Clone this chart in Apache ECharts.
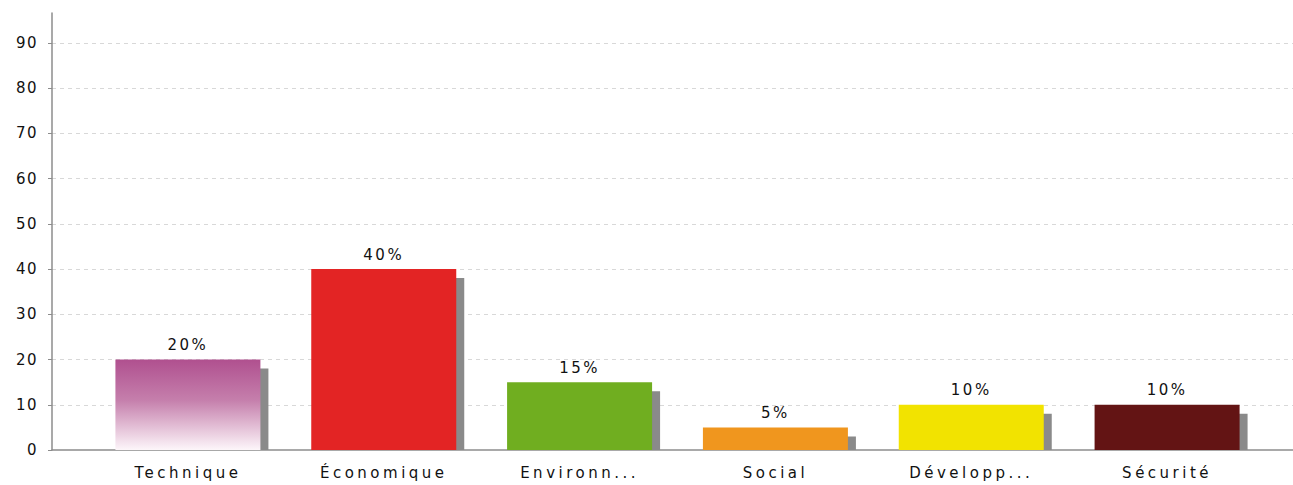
<!DOCTYPE html>
<html>
<head>
<meta charset="utf-8">
<script src="https://cdn.jsdelivr.net/npm/echarts@6/dist/echarts.min.js"></script>
<style>
  html, body { margin: 0; padding: 0; background: #fff; }
  #chart { width: 1293px; height: 485px; }
</style>
</head>
<body>
<div id="chart"></div>
<script>
const categories = ['Technique', 'Économique', 'Environn...', 'Social', 'Développ...', 'Sécurité'];
const values = [20, 40, 15, 5, 10, 10];
const barColors = ['#b0508f', '#e32424', '#70ae20', '#f0961e', '#f2e300', '#631414'];
const yTicks = [0, 10, 20, 30, 40, 50, 60, 70, 80, 90];

const FONT = 'DejaVu Sans';
const Y_MAX = 96.6;
const BAR_W = 145;

const chart = echarts.init(document.getElementById('chart'), null, { renderer: 'svg' });

const barData = values.map((v, i) => {
  let color = barColors[i];
  if (i === 0) {
    color = new echarts.graphic.LinearGradient(0, 0, 0, 1, [
      { offset: 0, color: '#b0508f' },
      { offset: 0.45, color: '#c57fac' },
      { offset: 1, color: '#fdf6fa' }
    ]);
  }
  return { value: v, itemStyle: { color: color } };
});

const option = {
  animation: false,
  backgroundColor: '#ffffff',
  grid: [
    { left: 90, right: 28, top: 13, bottom: 35 },
    { left: 52, right: 0, top: 13, bottom: 35 }
  ],
  xAxis: [
    {
      type: 'category', gridIndex: 0, data: categories,
      axisLine: { show: false }, axisTick: { show: false },
      axisLabel: { color: '#111', fontFamily: FONT, fontSize: 15, margin: 15 }
    },
    {
      type: 'value', gridIndex: 1, min: 0, max: 1,
      axisLine: { show: true, onZero: false, lineStyle: { color: '#8c8c8c', width: 1.5 } },
      axisTick: { show: false }, axisLabel: { show: false }, splitLine: { show: false }
    }
  ],
  yAxis: [
    {
      type: 'value', gridIndex: 0, min: 0, max: Y_MAX,
      show: false
    },
    {
      type: 'value', gridIndex: 1, min: 0, max: Y_MAX, interval: 10,
      axisLine: { show: true, lineStyle: { color: '#8c8c8c', width: 1.5 } },
      axisTick: { show: true, length: 4, lineStyle: { color: '#8c8c8c' } },
      axisLabel: {
        color: '#111', fontFamily: FONT, fontSize: 15, margin: 14,
        showMaxLabel: false,
        formatter: v => (yTicks.indexOf(v) >= 0 ? String(v) : '')
      },
      splitLine: { show: true, showMinLine: false, showMaxLine: false, lineStyle: { color: '#d8d8d8', type: [4, 4], width: 1 } }
    }
  ],
  series: [
    {
      type: 'custom', xAxisIndex: 0, yAxisIndex: 0, z: 1,
      data: values.map((v, i) => [i, v]),
      renderItem: function (params, api) {
        const top = api.coord([api.value(0), api.value(1)]);
        const base = api.coord([api.value(0), 0]);
        const x = top[0] - BAR_W / 2 + 8;
        const y = top[1] + 9;
        return {
          type: 'rect',
          shape: { x: x, y: y, width: BAR_W, height: Math.max(0, base[1] - y) },
          style: { fill: '#8a8a8a' }
        };
      },
      silent: true
    },
    {
      type: 'bar', xAxisIndex: 0, yAxisIndex: 0, z: 3,
      barWidth: BAR_W,
      data: barData,
      label: {
        show: true, position: 'top', distance: 7,
        color: '#111', fontFamily: FONT, fontSize: 15,
        formatter: p => p.value + '%'
      }
    }
  ]
};

chart.setOption(option);

function spaceLabels() {
  const texts = document.querySelectorAll('#chart text');
  texts.forEach(t => {
    const s = t.textContent;
    if (categories.indexOf(s) >= 0) {
      t.style.letterSpacing = '3.5px';
    } else if (/%$/.test(s)) {
      t.style.letterSpacing = '2.5px';
    } else if (/^\d+$/.test(s)) {
      t.style.letterSpacing = '1.5px';
    }
  });
}
spaceLabels();
chart.on('finished', spaceLabels);
</script>
</body>
</html>
